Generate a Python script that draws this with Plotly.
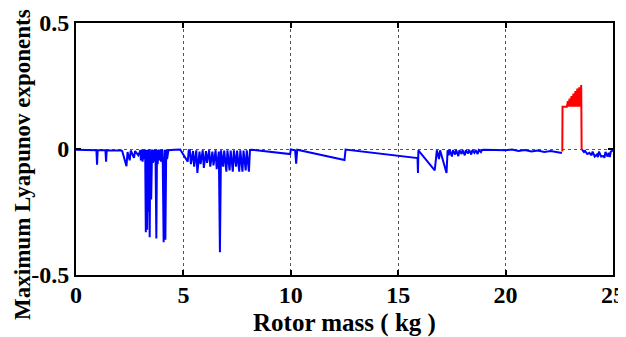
import plotly.graph_objects as go

# ---- data (rotor mass in kg, maximum Lyapunov exponent) ----
seg_a_x = [0, 0.3, 0.6, 0.95, 0.98, 1.01, 1.37, 1.40, 1.43, 1.8, 2.1, 2.15, 2.35, 2.40, 2.5, 2.55, 2.7, 2.75, 2.9, 3.0]
seg_a_y = [-0.003, -0.004, -0.004, -0.005, -0.062, -0.005, -0.005, -0.05, -0.005, -0.005, -0.006, -0.008, -0.068, -0.012, -0.045, -0.006, -0.035, -0.008, -0.025, -0.005]

seg_b_x = [3.02, 3.06, 3.10, 3.14, 3.18, 3.22, 3.25, 3.28, 3.31, 3.34, 3.37, 3.40, 3.43, 3.46, 3.50, 3.54, 3.58,
           3.62, 3.66, 3.70, 3.74, 3.77, 3.80, 3.84, 3.88, 3.92, 3.96, 4.00, 4.04, 4.08, 4.12, 4.16, 4.20, 4.24]
seg_b_y = [-0.045, -0.002, -0.05, -0.003, -0.04, -0.002, -0.33, -0.004, -0.32, -0.003, -0.25, -0.002, -0.35, -0.005,
           -0.2, -0.002, -0.055, -0.003, -0.05, -0.002, -0.355, -0.004, -0.06, -0.002, -0.045, -0.003, -0.05, -0.002,
           -0.06, -0.37, -0.003, -0.36, -0.003, -0.04]

seg_c_x = [4.3, 4.6, 4.85, 5.2, 5.25]
seg_c_y = [-0.005, -0.003, -0.002, -0.05, -0.005]

seg_d_x = [5.3, 5.35, 5.45, 5.5, 5.6, 5.65, 5.75, 5.8, 5.9, 5.95, 6.05, 6.1, 6.2, 6.25, 6.35, 6.4, 6.5, 6.55, 6.65,
           6.70, 6.75, 6.85, 6.9, 7.0, 7.05, 7.15, 7.2, 7.3, 7.35, 7.45, 7.5, 7.6, 7.65, 7.75, 7.8, 7.9, 7.95, 8.05,
           8.1, 8.2]
seg_d_y = [-0.005, -0.06, -0.008, -0.07, -0.005, -0.095, -0.01, -0.06, -0.005, -0.075, -0.008, -0.055, -0.005,
           -0.07, -0.01, -0.065, -0.005, -0.08, -0.01, -0.41, -0.005, -0.07, -0.006, -0.09, -0.005, -0.085, -0.006,
           -0.09, -0.005, -0.07, -0.006, -0.09, -0.005, -0.09, -0.006, -0.085, -0.005, -0.09, -0.004, -0.003]

seg_e_x = [9.97, 10.0, 10.2, 10.25, 10.3, 12.5, 12.55, 15.9]
seg_e_y = [-0.02, -0.002, -0.005, -0.058, -0.003, -0.044, -0.002, -0.036]

seg_f_x = [15.92, 15.94, 16.7, 16.8, 16.9, 16.95, 17.25, 17.3]
seg_f_y = [-0.095, -0.005, -0.085, -0.005, -0.04, -0.005, -0.095, -0.005]

seg_g_x = [17.35, 17.4, 17.5, 17.55, 17.65, 17.7, 17.8, 17.85, 17.95, 18.0, 18.1, 18.15, 18.25, 18.3, 18.4, 18.45,
           18.55, 18.6, 18.7, 18.75, 18.85, 18.9, 19.0]
seg_g_y = [-0.025, -0.004, -0.03, -0.005, -0.022, -0.004, -0.028, -0.005, -0.02, -0.004, -0.025, -0.005, -0.018,
           -0.004, -0.022, -0.005, -0.015, -0.004, -0.02, -0.004, -0.012, -0.004, -0.003]

seg_h_x = [19.5, 20.0, 20.3, 20.6, 20.9, 21.2, 21.5, 21.8, 22.1, 22.4, 22.62]
seg_h_y = [-0.003, -0.005, -0.002, -0.008, -0.004, -0.01, -0.006, -0.012, -0.008, -0.014, -0.016]

seg_i_x = [23.56, 23.65, 23.7, 23.8, 23.9, 24.0, 24.05, 24.15, 24.25, 24.3, 24.35, 24.45, 24.55, 24.6, 24.65,
           24.75, 24.8, 24.85, 24.9, 25.0]
seg_i_y = [-0.003, -0.012, -0.008, -0.02, -0.015, -0.025, -0.01, -0.03, -0.022, -0.032, -0.01, -0.03, -0.028,
           -0.035, -0.012, -0.03, -0.015, -0.032, -0.01, -0.005]

red_x = [22.64, 22.65, 22.85, 22.9, 22.92, 22.98, 23.0, 23.07, 23.09, 23.16, 23.18, 23.25, 23.27, 23.34, 23.36,
         23.43, 23.45, 23.52, 23.54]
red_y = [-0.01, 0.168, 0.168, 0.19, 0.168, 0.20, 0.168, 0.21, 0.168, 0.22, 0.168, 0.23, 0.168, 0.24, 0.168,
         0.245, 0.168, 0.254, -0.003]

x_ticks = [0, 5, 10, 15, 20, 25]
y_ticks = [-0.5, 0, 0.5]
y_tick_labels = ["-0.5", "0", "0.5"]

blue_x = seg_a_x + seg_b_x + seg_c_x + seg_d_x + seg_e_x + seg_f_x + seg_g_x + seg_h_x + [None] + seg_i_x
blue_y = seg_a_y + seg_b_y + seg_c_y + seg_d_y + seg_e_y + seg_f_y + seg_g_y + seg_h_y + [None] + seg_i_y

FONT = "Liberation Serif"

fig = go.Figure()
fig.add_trace(go.Scatter(x=blue_x, y=blue_y, mode="lines", line=dict(color="#0000ff", width=2),
                         connectgaps=False, showlegend=False, hoverinfo="skip"))
fig.add_trace(go.Scatter(x=red_x, y=red_y, mode="lines", line=dict(color="#ff0000", width=2),
                         showlegend=False, hoverinfo="skip"))

axis_common = dict(showline=True, linecolor="black", linewidth=2, mirror="ticks", ticks="inside",
                   ticklen=5, tickwidth=1.5, tickcolor="black", showgrid=True, gridcolor="#555555",
                   griddash="dot", gridwidth=1, zeroline=False, automargin=False,
                   tickfont=dict(family=FONT, size=24, color="black", weight="bold"))

fig.update_xaxes(range=[0, 25], tickvals=x_ticks, ticklabelstandoff=-3, **axis_common)
fig.update_yaxes(range=[-0.5, 0.5], tickvals=y_ticks, ticktext=y_tick_labels, ticklabelstandoff=0, **axis_common)

fig.add_annotation(text="Rotor mass ( kg )", xref="paper", yref="paper", x=0.5, y=-0.19,
                   xanchor="center", yanchor="middle", showarrow=False,
                   font=dict(family=FONT, size=25, color="black", weight="bold"))
fig.add_annotation(text="Maximum Lyapunov exponents", xref="paper", yref="paper", x=-0.101, y=0.44,
                   xanchor="center", yanchor="middle", showarrow=False, textangle=-90,
                   font=dict(family=FONT, size=23, color="black", weight="bold"))

# the page body has an 8 px default margin, so the figure is sized to fit the 626x337 window
fig.update_layout(width=618, height=329, margin=dict(l=68, r=13, t=15, b=62, autoexpand=False),
                  paper_bgcolor="white", plot_bgcolor="white")

fig.write_html("out.html")
